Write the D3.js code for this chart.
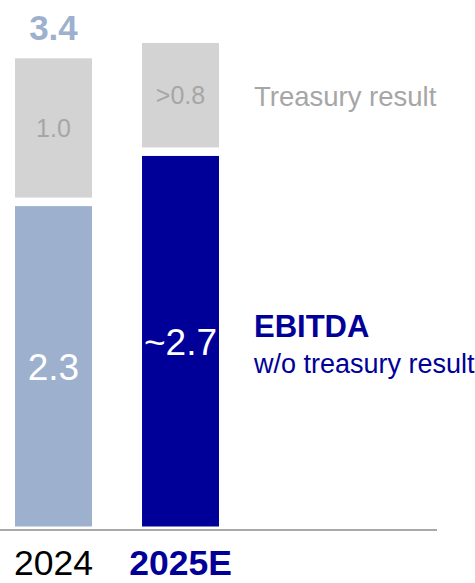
<!DOCTYPE html>
<html>
<head>
<meta charset="utf-8">
<script src="https://cdn.jsdelivr.net/npm/d3@7"></script>
<style>
  body { margin: 0; background: #fff; }
  svg { display: block; font-family: "Liberation Sans", Arial, sans-serif; }
</style>
</head>
<body>
<div id="chart"></div>
<script>
// data
var years = ["2024", "2025E"];
var ebitda = [2.3, 2.66];
var treasury = [1.0, 0.75];
var ebitdaLabels = ["2.3", "~2.7"];
var treasuryLabels = ["1.0", ">0.8"];
var totalLabels = ["3.4", ""];

var W = 475, H = 583;
var gap = 8.5;

var svg = d3.select("#chart").append("svg")
	.attr("width", W)
	.attr("height", H);

var x = d3.scaleBand()
	.domain(years)
	.range([15, 219])
	.paddingInner(0.394)
	.paddingOuter(0);

var y = d3.scaleLinear()
	.domain([0, 1])
	.range([526.5, 387.2]);

var h = function(v) { return y(0) - y(v); };

var rows = years.map(function(d, i) {
	return { year: d, e: ebitda[i], t: treasury[i], el: ebitdaLabels[i], tl: treasuryLabels[i], tot: totalLabels[i], i: i };
});

var ebColor = ["#9DB0CE", "#000099"];

// ebitda segment
svg.selectAll("rect.eb").data(rows).enter().append("rect")
	.attr("class", "eb")
	.attr("x", function(d) { return x(d.year); })
	.attr("width", x.bandwidth())
	.attr("y", function(d) { return y(d.e); })
	.attr("height", function(d) { return h(d.e); })
	.attr("fill", function(d) { return ebColor[d.i]; });

// treasury segment sits above with a white gap
svg.selectAll("rect.tr").data(rows).enter().append("rect")
	.attr("class", "tr")
	.attr("x", function(d) { return x(d.year); })
	.attr("width", x.bandwidth())
	.attr("y", function(d) { return y(d.e) - gap - h(d.t); })
	.attr("height", function(d) { return h(d.t); })
	.attr("fill", "#D3D3D3");

var cx = function(d) { return x(d.year) + x.bandwidth() / 2; };

svg.selectAll("text.el").data(rows).enter().append("text")
	.attr("x", cx)
	.attr("y", function(d) { return (y(d.e) + y(0)) / 2; })
	.attr("dy", "0.36em")
	.attr("text-anchor", "middle")
	.attr("fill", "#fff")
	.style("font-size", "37px")
	.text(function(d) { return d.el; });

svg.selectAll("text.tl").data(rows).enter().append("text")
	.attr("x", cx)
	.attr("y", function(d) { return y(d.e) - gap - h(d.t) / 2; })
	.attr("dy", "0.36em")
	.attr("text-anchor", "middle")
	.attr("fill", "#A6A6A6")
	.style("font-size", "25px")
	.text(function(d) { return d.tl; });

svg.selectAll("text.tot").data(rows).enter().append("text")
	.attr("x", cx)
	.attr("y", function(d) { return y(d.e) - gap - h(d.t) - 18; })
	.attr("text-anchor", "middle")
	.attr("fill", "#9DB0CE")
	.style("font-size", "35px")
	.style("font-weight", "bold")
	.text(function(d) { return d.tot; });

// baseline
svg.append("line")
	.attr("x1", 0).attr("x2", 437)
	.attr("y1", 530).attr("y2", 530)
	.attr("stroke", "#8C8C8C")
	.attr("stroke-width", 1.5);

// year labels
svg.selectAll("text.yr").data(rows).enter().append("text")
	.attr("x", cx)
	.attr("y", 575)
	.attr("text-anchor", "middle")
	.attr("fill", function(d) { return d.i == 1 ? "#000099" : "#000"; })
	.style("font-size", "35.5px")
	.style("font-weight", function(d) { return d.i == 1 ? "bold" : "normal"; })
	.text(function(d) { return d.year; });

// right side labels
svg.append("text")
	.attr("x", 254).attr("y", 106)
	.attr("fill", "#A6A6A6")
	.style("font-size", "27.5px")
	.text("Treasury result");

svg.append("text")
	.attr("x", 254).attr("y", 337)
	.attr("fill", "#000099")
	.style("font-size", "31px")
	.style("font-weight", "bold")
	.text("EBITDA");

svg.append("text")
	.attr("x", 254).attr("y", 373)
	.attr("fill", "#000099")
	.style("font-size", "27px")
	.text("w/o treasury result");
</script>
</body>
</html>
